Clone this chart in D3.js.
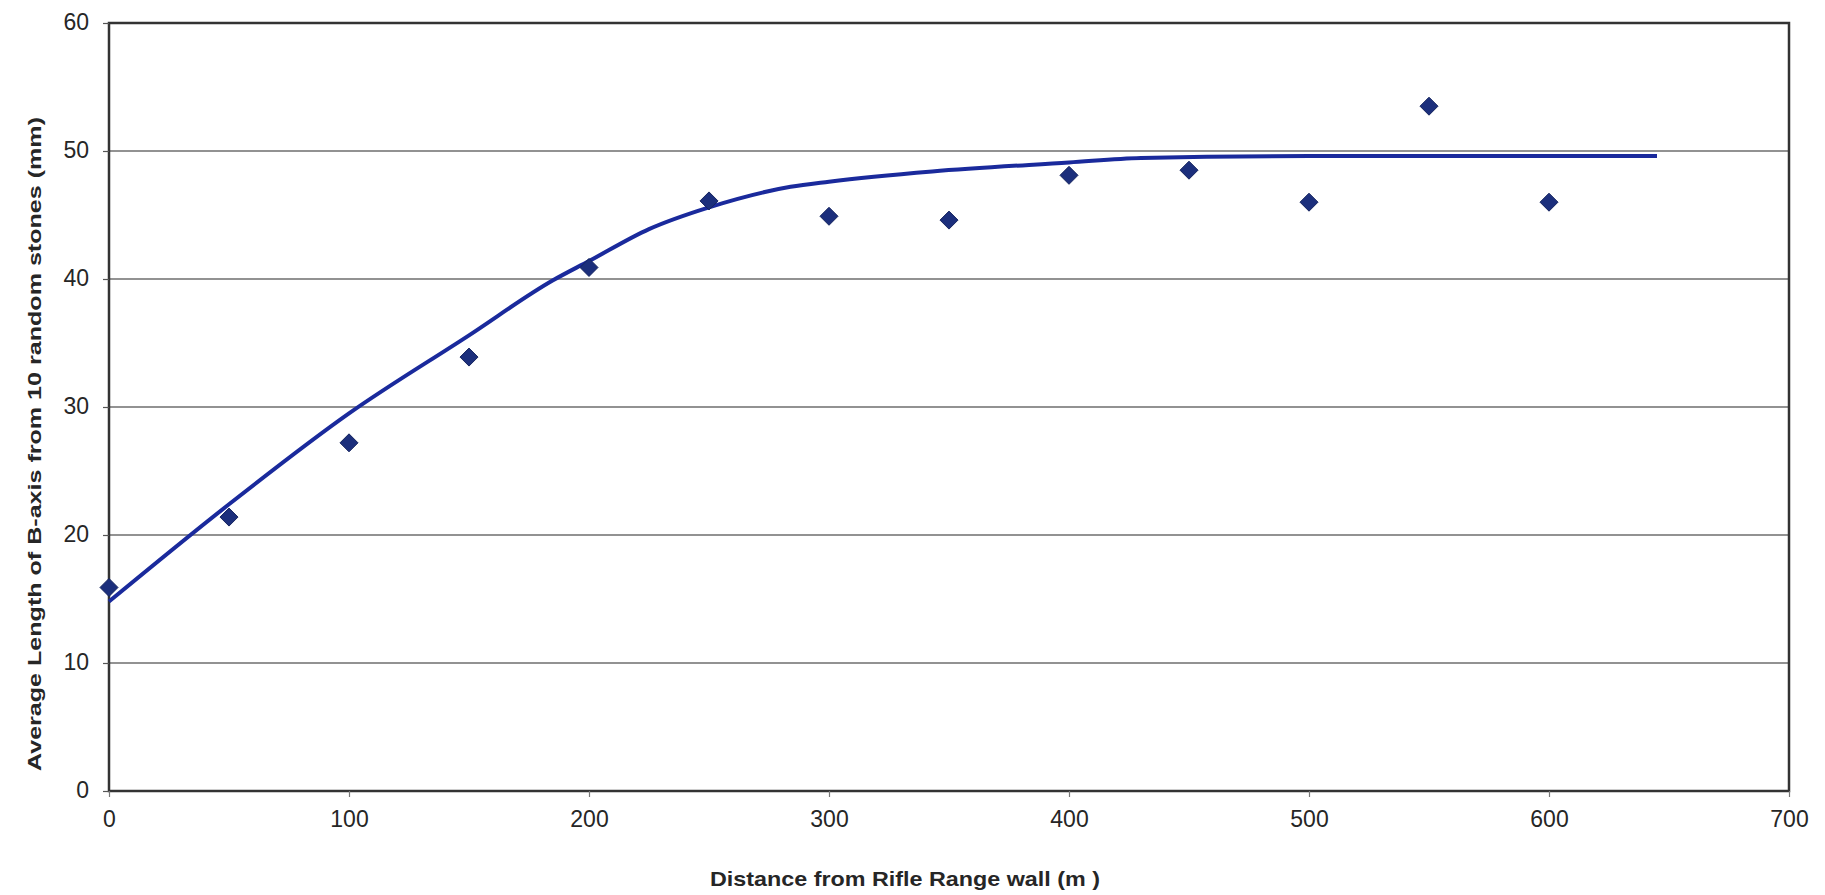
<!DOCTYPE html>
<html>
<head>
<meta charset="utf-8">
<script src="https://cdn.jsdelivr.net/npm/d3@7"></script>
<style>
  html, body { margin: 0; padding: 0; background: #fff; }
  svg { display: block; }
  text { font-family: "Liberation Sans", Arial, sans-serif; fill: #262626; }
</style>
</head>
<body>
<svg id="chart" width="1825" height="895"></svg>
<script>
// Observed data (diamonds)
const distances = [0, 50, 100, 150, 200, 250, 300, 350, 400, 450, 500, 550, 600];
const avgLength = [15.9, 21.4, 27.2, 33.9, 40.9, 46.1, 44.9, 44.6, 48.1, 48.5, 46.0, 53.5, 46.0];

// Fitted trend line
const fitX = [0, 50, 100, 150, 185, 200, 225, 250, 284, 300, 343, 400, 430, 500, 645];
const fitY = [14.8, 22.4, 29.5, 35.6, 39.9, 41.4, 43.9, 45.6, 47.2, 47.6, 48.4, 49.1, 49.45, 49.6, 49.6];

const xTicks = [0, 100, 200, 300, 400, 500, 600, 700];
const yTicks = [0, 10, 20, 30, 40, 50, 60];

const xTitle = "Distance from Rifle Range wall (m )";
const yTitle = "Average Length of B-axis from 10 random stones (mm)";

const svg = d3.select("#chart");
const m = { left: 109, right: 1789, top: 23, bottom: 791 };

const x = d3.scaleLinear().domain([0, 700]).range([m.left, m.right]);
const y = d3.scaleLinear().domain([0, 60]).range([m.bottom, m.top]);

// gridlines
svg.append("g").selectAll("line")
  .data(yTicks.filter(d => d > 0 && d < 60))
  .join("line")
  .attr("x1", m.left).attr("x2", m.right)
  .attr("y1", d => y(d)).attr("y2", d => y(d))
  .attr("stroke", "#6e6e6e").attr("stroke-width", 1.6);

// frame
svg.append("rect")
  .attr("x", m.left).attr("y", m.top)
  .attr("width", m.right - m.left).attr("height", m.bottom - m.top)
  .attr("fill", "none").attr("stroke", "#333").attr("stroke-width", 2.5);

// y axis
const yAxis = d3.axisLeft(y).tickValues(yTicks).tickSize(6).tickPadding(14);
const gy = svg.append("g").attr("transform", `translate(${m.left},0)`).call(yAxis);
gy.select(".domain").remove();
gy.selectAll(".tick line").attr("stroke", "#555").attr("stroke-width", 1.2);
gy.selectAll(".tick text").style("font-size", "23px").attr("fill", "#262626").attr("dy", "0.3em");

// x axis
const xAxis = d3.axisBottom(x).tickValues(xTicks).tickSize(6).tickPadding(14);
const gx = svg.append("g").attr("transform", `translate(0,${m.bottom})`).call(xAxis);
gx.select(".domain").remove();
gx.selectAll(".tick line").attr("stroke", "#777").attr("stroke-width", 1.2);
gx.selectAll(".tick text").style("font-size", "23px").attr("fill", "#262626");

// fit line
const fitData = fitX.map((d, i) => [d, fitY[i]]);
svg.append("path")
  .datum(fitData)
  .attr("d", d3.line().x(d => x(d[0])).y(d => y(d[1])).curve(d3.curveMonotoneX))
  .attr("fill", "none")
  .attr("stroke", "#1a2a9c")
  .attr("stroke-width", 4)
  .attr("stroke-linecap", "butt");

// diamonds
const pts = distances.map((d, i) => [d, avgLength[i]]);
svg.append("g").selectAll("path")
  .data(pts)
  .join("path")
  .attr("transform", d => `translate(${x(d[0])},${y(d[1])})`)
  .attr("d", "M0,-9L9,0L0,9L-9,0Z")
  .attr("fill", "#1c2f7c")
  .attr("stroke", "#15245f")
  .attr("stroke-width", 1);

// titles
svg.append("text")
  .attr("x", 905).attr("y", 886)
  .attr("text-anchor", "middle")
  .attr("textLength", 390).attr("lengthAdjust", "spacingAndGlyphs")
  .style("font-size", "21px").style("font-weight", "bold")
  .text(xTitle);

svg.append("text")
  .attr("transform", "translate(41,444) rotate(-90)")
  .attr("text-anchor", "middle")
  .attr("textLength", 654).attr("lengthAdjust", "spacingAndGlyphs")
  .style("font-size", "19px").style("font-weight", "bold")
  .text(yTitle);
</script>
</body>
</html>
